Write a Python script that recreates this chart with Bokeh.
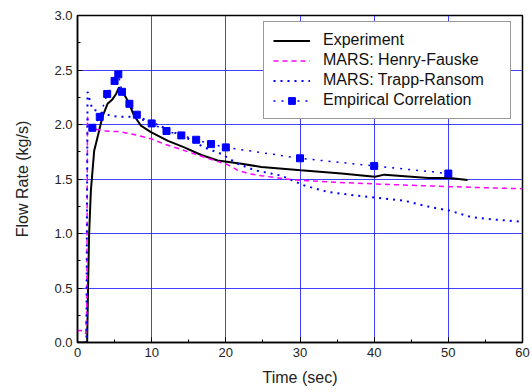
from bokeh.plotting import figure
from bokeh.models import Legend, LegendItem, FixedTicker, Range1d, CustomJSTickFormatter
from bokeh.embed import file_html
from bokeh.resources import INLINE

# Experiment
exp_t = [0, 1.3, 1.45, 1.57, 1.8, 2.25, 2.8, 3.4, 4.05, 4.7, 5.2, 5.6, 6.08, 6.76, 7.65, 8.55, 9.9,
         12.2, 14.4, 16.7, 18.9, 22.1, 24.8, 30.1, 35.6, 40.1, 41.4, 47.3, 50.2, 52.6]
exp_v = [0, 0, 0.6, 1.0, 1.39, 1.76, 1.91, 2.08, 2.19, 2.23, 2.28, 2.34, 2.30, 2.22, 2.08, 1.99, 1.93,
         1.85, 1.79, 1.72, 1.67, 1.64, 1.61, 1.58, 1.55, 1.52, 1.54, 1.51, 1.51, 1.49]

# MARS: Henry-Fauske
hf_t = [0, 0.2, 0.5, 1.1, 1.25, 1.35, 1.57, 2.25, 3.6, 5.4, 6.8, 8.1, 9.9, 11.7, 14, 16.2, 18.5,
        20.3, 21.6, 23, 24.8, 29.3, 34.7, 40.1, 45.9, 50.2, 55, 60]
hf_v = [0.1, 0.11, 0.11, 0.08, 0.3, 2.07, 1.99, 1.96, 1.94, 1.935, 1.92, 1.90, 1.87, 1.82, 1.77, 1.72, 1.67,
        1.63, 1.58, 1.55, 1.53, 1.49, 1.47, 1.455, 1.44, 1.43, 1.42, 1.41]

# MARS: Trapp-Ransom
tr_t = [0, 1.2, 1.35, 2.0, 4.5, 5.85, 7.2, 9.0, 10.4, 12.6, 14.9, 17.1, 19.4, 21.6, 23.9, 26.1,
        27.5, 30.6, 33.8, 37.4, 40.1, 44.1, 47.7, 50.2, 53.1, 55.9, 59.5]
tr_v = [0, 0, 2.30, 2.14, 2.08, 2.07, 2.07, 2.04, 2.01, 1.94, 1.87, 1.79, 1.73, 1.64, 1.58, 1.55,
        1.53, 1.44, 1.38, 1.35, 1.33, 1.30, 1.24, 1.21, 1.15, 1.13, 1.11]

# Empirical Correlation
emp_t = [2.0, 3.0, 4.0, 5.0, 5.5, 6.0, 7.0, 8.0, 10, 12, 14, 16, 18, 20, 30, 40, 50]
emp_v = [1.97, 2.07, 2.28, 2.40, 2.46, 2.30, 2.19, 2.09, 2.01, 1.94, 1.90, 1.86, 1.82, 1.79, 1.69, 1.62, 1.55]

x_ticks = [0, 10, 20, 30, 40, 50, 60]
y_ticks = [0.0, 0.5, 1.0, 1.5, 2.0, 2.5, 3.0]

p = figure(width=531, height=392, output_backend="svg", toolbar_location=None,
           x_range=Range1d(0, 60), y_range=Range1d(0, 3.0),
           min_border_left=77, min_border_right=9, min_border_top=15, min_border_bottom=50)
p.background_fill_color = "white"
p.border_fill_color = "white"
p.outline_line_color = "black"
p.outline_line_width = 1.5

for ax in (p.xaxis, p.yaxis):
    ax.major_tick_in = 5
    ax.major_tick_out = 0
    ax.minor_tick_in = 3
    ax.minor_tick_out = 0
    ax.axis_line_color = "black"
    ax.axis_line_width = 1.5
    ax.major_tick_line_color = "black"
    ax.minor_tick_line_color = "black"
    ax.major_label_text_font = "Liberation Sans"
    ax.major_label_text_font_size = "13px"
    ax.major_label_text_color = "#222222"
    ax.axis_label_text_font = "Liberation Sans"
    ax.axis_label_text_font_size = "16px"
    ax.axis_label_text_font_style = "normal"
    ax.axis_label_text_color = "#222222"

p.xaxis.ticker = FixedTicker(ticks=x_ticks, minor_ticks=[5, 15, 25, 35, 45, 55])
p.yaxis.ticker = FixedTicker(ticks=y_ticks, minor_ticks=[0.25, 0.75, 1.25, 1.75, 2.25, 2.75])
p.yaxis.formatter = CustomJSTickFormatter(code="return tick.toFixed(1);")
p.xaxis.axis_label = "Time (sec)"
p.yaxis.axis_label = "Flow Rate (kg/s)"
p.xaxis.major_label_standoff = 5
p.yaxis.major_label_standoff = 5
p.xaxis.axis_label_standoff = 9
p.yaxis.axis_label_standoff = 20

p.xgrid.ticker = p.xaxis.ticker
p.ygrid.ticker = p.yaxis.ticker
for g in (p.xgrid, p.ygrid):
    g.grid_line_color = "#2020ff"
    g.grid_line_alpha = 0.85
    g.grid_line_width = 1

r_exp = p.line(exp_t, exp_v, line_color="black", line_width=2)
r_hf = p.line(hf_t, hf_v, line_color="#ff00ff", line_width=1.5, line_dash="5 4")
r_tr = p.line(tr_t, tr_v, line_color="#0000ff", line_width=2, line_dash="2 5")
r_emp_l = p.line(emp_t, emp_v, line_color="#0000ff", line_width=1.5, line_dash="2 6")
r_emp_m = p.scatter(emp_t, emp_v, marker="square", size=7, fill_color="#0000ff", line_color="#0000ff")

legend = Legend(items=[
    LegendItem(label="Experiment", renderers=[r_exp]),
    LegendItem(label="MARS: Henry-Fauske", renderers=[r_hf]),
    LegendItem(label="MARS: Trapp-Ransom", renderers=[r_tr]),
    LegendItem(label="Empirical Correlation", renderers=[r_emp_l, r_emp_m]),
], location=(186, 223))
legend.margin = 0
legend.padding = 9
legend.spacing = 2
legend.glyph_width = 37
legend.glyph_height = 17
legend.label_height = 17
legend.label_width = 178
legend.label_standoff = 13
legend.label_text_font = "Liberation Sans"
legend.label_text_font_size = "16px"
legend.label_text_color = "#111111"
legend.border_line_color = "#333333"
legend.border_line_width = 1
legend.background_fill_color = "white"
legend.background_fill_alpha = 1
p.add_layout(legend, "center")

open("out.html", "w").write(file_html(p, INLINE))
